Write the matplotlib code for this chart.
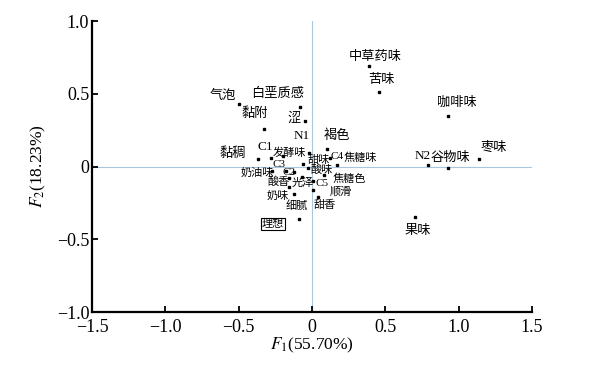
import matplotlib
matplotlib.use("Agg")
import matplotlib.pyplot as plt

plt.rcParams["font.family"] = ["Liberation Serif", "Noto Sans CJK SC", "DejaVu Serif"]
plt.rcParams["mathtext.fontset"] = "stix"

# ─── data ──────────────────────────────────────────────────────
labels = ["中草药味", "苦味", "咖啡味", "枣味", "谷物味", "N2", "果味",
          "气泡", "白垩质感", "黏附", "涩", "N1", "褐色", "黏稠", "C1",
          "发酵味", "C3", "C2", "奶油味", "甜味", "C4", "焦糖味", "酸味",
          "焦糖色", "光泽", "C5", "酸香", "顺滑", "奶味", "细腻", "甜香", "理想"]
f1 = [0.39, 0.46, 0.93, 1.14, 0.93, 0.79, 0.70,
      -0.50, -0.08, -0.33, -0.05, -0.02, 0.10, -0.37, -0.28,
      -0.20, -0.18, -0.12, -0.27, -0.06, 0.12, 0.17, -0.03,
      0.08, -0.07, 0.01, -0.16, 0.01, -0.16, -0.12, 0.04, -0.09]
f2 = [0.69, 0.51, 0.35, 0.05, -0.01, 0.01, -0.35,
      0.43, 0.41, 0.26, 0.31, 0.09, 0.12, 0.05, 0.06,
      0.07, -0.03, -0.04, -0.03, 0.02, 0.06, 0.01, -0.01,
      -0.06, -0.07, -0.10, -0.08, -0.16, -0.14, -0.19, -0.21, -0.36]

# label offsets (pixels) and font sizes
offsets = {
    "中草药味": (6, 10), "苦味": (2, 13), "咖啡味": (9, 13), "枣味": (15, 12),
    "谷物味": (2, 10), "N2": (-5, 9), "果味": (3, -13), "气泡": (-16, 8),
    "白垩质感": (-23, 13), "黏附": (-9, 15), "涩": (-11, 3), "N1": (-7, 17),
    "褐色": (10, 14), "黏稠": (-25, 6), "C1": (-6, 11), "发酵味": (7, 4),
    "C3": (-7, 6), "C2": (-5, 0), "奶油味": (-15, -2), "甜味": (15, 4),
    "C4": (7, 1), "焦糖味": (23, 7), "酸味": (14, -2), "焦糖色": (26, -4),
    "光泽": (1, -6), "C5": (9, -2), "酸香": (-10, -4), "顺滑": (27, -2),
    "奶味": (-11, -9), "细腻": (2, -11), "甜香": (7, -8), "理想": (-26, -5),
}
big = {"中草药味", "苦味", "咖啡味", "枣味", "谷物味", "N2", "果味", "气泡",
       "白垩质感", "黏附", "涩", "N1", "褐色", "黏稠", "C1"}

# ─── plot ──────────────────────────────────────────────────────
fig = plt.figure(figsize=(5.91, 3.78), dpi=100)
ax = fig.add_axes([0.1557, 0.1746, 0.7444, 0.7698])

ax.axhline(0, color="#a9c6de", lw=0.8, zorder=0)
ax.axvline(0, color="#a9c6de", lw=0.8, zorder=0)
ax.plot(f1, f2, "s", color="black", ms=1.9, ls="none")

for lab, x, y in zip(labels, f1, f2):
    dx, dy = offsets[lab]
    fs = 9.5 if lab in big else 8
    bbox = dict(boxstyle="square,pad=0.1", fc="white", ec="black", lw=0.8) if lab == "理想" else None
    ax.annotate(lab, (x, y), xytext=(dx, dy), textcoords="offset pixels",
                ha="center", va="center", fontsize=fs, bbox=bbox,
                family=["Noto Sans CJK SC", "Liberation Serif"] if not lab.isascii() else "Liberation Serif")

ax.set_xlim(-1.5, 1.5)
ax.set_ylim(-1.0, 1.0)
ax.set_xticks([-1.5, -1.0, -0.5, 0, 0.5, 1.0, 1.5])
ax.set_xticklabels(["\u22121.5", "\u22121.0", "\u22120.5", "0", "0.5", "1.0", "1.5"])
ax.set_yticks([-1.0, -0.5, 0, 0.5, 1.0])
ax.set_yticklabels(["\u22121.0", "\u22120.5", "0", "0.5", "1.0"])
ax.tick_params(direction="in", length=4, width=1.3, labelsize=13, pad=2)
ax.tick_params(axis="x", pad=5)
for side in ("top", "right"):
    ax.spines[side].set_visible(False)
for side in ("left", "bottom"):
    ax.spines[side].set_linewidth(1.6)

ax.set_xlabel(r"$F_1$(55.70%)", fontsize=12.5, labelpad=0)
ax.set_ylabel(r"$F_2$(18.23%)", fontsize=12.5, labelpad=6)

fig.savefig("out.png", dpi=100)
